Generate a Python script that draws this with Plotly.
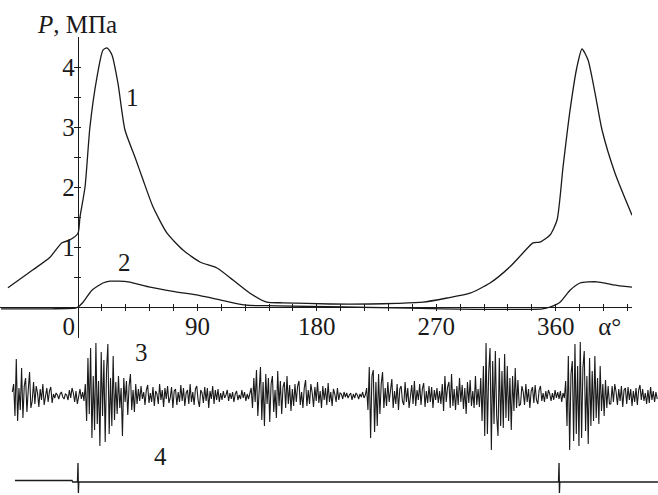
import numpy as np
import plotly.graph_objects as go

# ---------------- data ----------------
# curve 1: pressure, MPa vs crank angle, deg
c1_deg = [-52.8, -33.9, -21.1, -12.1, -6.0, 0.0, 1.5, 5.3, 9.0, 14.3, 18.8, 21.9, 25.6,
          30.1, 35.4, 42.9, 49.0, 56.5, 67.1, 79.1, 91.9, 104.7, 116.8, 129.6, 142.4,
          154.5, 189.9, 220.0, 240.0, 260.0, 278.1, 295.4, 310.5, 325.5, 335.3, 342.9,
          348.1, 355.7, 361.0, 365.5, 370.8, 376.0, 379.8, 384.3, 389.6, 394.9, 404.7, 417.5]
c1_mpa = [0.32, 0.62, 0.83, 1.07, 1.12, 1.23, 1.50, 2.00, 3.00, 3.83, 4.28, 4.32, 4.20,
          3.73, 2.95, 2.50, 2.12, 1.67, 1.23, 0.95, 0.75, 0.65, 0.45, 0.23, 0.08,
          0.07, 0.05, 0.05, 0.06, 0.08, 0.15, 0.23, 0.40, 0.67, 0.90, 1.07,
          1.08, 1.20, 1.45, 2.33, 3.28, 4.00, 4.30, 4.12, 3.57, 2.95, 2.23, 1.53]

# curve 2
c2_deg = [-58.0, -20.0, -2.0, 0.0, 3.8, 10.5, 18.8, 24.1, 37.7, 54.3, 71.6, 91.9, 107.0,
          127.0, 150.0, 250.0, 300.0, 350.0, 355.7, 363.2, 370.8, 378.3, 391.1, 403.2, 417.5]
c2_mpa = [-0.03, -0.03, -0.02, 0.00, 0.08, 0.28, 0.40, 0.43, 0.42, 0.33, 0.26, 0.19, 0.12,
          0.03, 0.02, -0.02, -0.04, -0.03, 0.00, 0.08, 0.28, 0.40, 0.42, 0.37, 0.33]

# curve 3: vibration signal (arbitrary units), one sample per degree from -49.5 deg
sig3_start, sig3_step = -49.5, 1.0
s3_a = [4, 12, -20, 37, -25, 8, -14, 28, -22, 10, 18, -16, 6, 24, -12, -5, 14]
s3_b = [-8, 10, 3, -11, 7, -4, 12, -9, -2, 8, -6, 5, 9, -7, 2]
s3_c = [-2, 3, 1, -3, 2, 4, -1, -3, 2, 1]
s3_d = [-4, 6, -2, 8, 3, -6, 5, -8, 2, 7, -3, 4, -5]
s3_e = [12, -25, 38, -18, 48, -42, 20, -34, 53, -28, 15, -50, 44, -20, 36, -46, 25, 52,
        -38, 18, -30, 40, -24, 14, -18]
s3_f = [20, -12, 8, -40, 18, -6, 15, -19, 10, 22, -14, 6, -16, 12, -8]
s3_g = [7, -5, 10, -3, 4, -9, 6, 11, -7, 3, -6, 9, -10, 5, 2, -8, 12, -4, 6, -11,
        8, -3, 10, -7, -2, 9, -12, 5, 7, -9, 4, -6, 11, -5, 8, -10, 3, 6, -8, 12,
        -6, 4, -9, 7, 10, -4, -11, 6, 3, -7, 9, -5, 8, -12, 5, -3, 10, -8, 6, -4, 7, -6]
s3_h = [3, -4, 5, -2, 1, 6, -5, 3, -3, 4, -6, 2, 5, -4, 1, -3, 6, -2, 4, -5, 2, -3, 4]
s3_i = [8, -12, 18, -6, 26, -20, 10, 29, -24, 14, -30, 22, -8, 18, -26, 12, 20, -16, 6,
        -22, 25, -10, 15, -18, 9, 14, -12, 20, -8, 11, -15, 7, -10, 12]
s3_j = [-6, 10, 15, -9, 4, -12, 8, 16, -10, 6, -8, 12, 3, -11, 9, -5, 14, -7, 5, -12,
        10, -4, 8, -9, 13, -6, 4, -10, 7, 2, -6, 8, -4, 3]
s3_k = [2, -3, 4, -1, 3, -2, 1, 3, -4, 2, -2, 3, 1, -3, 2, -1, 4, -2, 1]
s3_l = [8, -14, 29, -42, 20, 26, -36, 14, -30, 22, -18, 12, 24, -12, 8]
s3_m = [-10, 14, -6, 9, 17, -12, 5, -8, 12, -14, 7, 10, -5, -9, 14, -6, 8, -12, 4, 11,
        -8, 15, -10, 6, -4, 12, -9, 7, 13, -11, 5, -7, 10, -6, 9, -12, 6, -4, 8, -7, 5]
s3_n = [-8, 12, -15, 20, -6, 9, 14, -12, 22, -10, 7, -14, 10, -9, 18, -6, 11, -13, 8,
        -18, 14, -7, 16, -10, 5, -12, 20, -9, 7, -11]
s3_o = [18, -25, 30, -40, 53, -38, 24, 48, -54, 35, -28, 45, -20, -40, 38, -30, 25, -32,
        42, -22, 30, -25, 18, -34, 20, -15, 28, -12, 16, -10]
s3_p = [-8, 10, 4, -9, 12, -6, 7, -12, 5, 9, -7, 11, -4, -8, 6, 10, -5, 3, -6]
s3_q = [5, -3, 6, 2, -5, 3, -4, 6, -2, 4, -3, 5, -6, 3, -2]
s3_r = [15, -30, 40, -54, 22, 35, -45, 52, -38, 30, -50, 54, -42, 28, 45, -35, 20, -48,
        38, -30, 25, -25, 40, -22, 18, -28, 30, -15, 12, -20, 16, -12, 10, -8]
s3_s = [-8, 10, -6, 12, 4, -9, 7, -5, 10, -11, 6, 8, -8, 9, -4, 7, -10, 5, -6, 8,
        -9, 6, 11, -4, 7, -5, 3, -8, 6, -7, 9, -4, 5, -6, 4, -3]
sig3 = (s3_a + s3_b + s3_c + s3_d + s3_e + s3_f + s3_g + s3_h + s3_i + s3_j + s3_k +
        s3_l + s3_m + s3_n + s3_o + s3_p + s3_q + s3_r + s3_s)
sig3_deg = sig3_start + sig3_step * np.arange(len(sig3))

# curve 4: marker pulses (arbitrary units)
sig4_deg = [-47.5, -4.5, -4.0, -0.4, 0.0, 0.3, 0.6, 362.1, 362.5, 362.8, 363.1, 437.0]
sig4 = [1.5, 1.5, 0.0, 0.0, 19.0, -11.0, 0.0, 0.0, 19.0, -11.0, 0.0, 0.0]

x_ticks = list(range(0, 415, 18))
x_labels = {0: "0\u2007\u2005", 90: "90", 180: "180", 270: "270", 360: "360", 396: "\u2002\u03b1\u00b0"}
y_ticks = [0.5, 1, 1.5, 2, 2.5, 3, 3.5, 4]
y_labels = {1: "1", 2: "2", 3: "3", 4: "4"}

curve_labels = [("1", 41.4, 3.5), ("2", 35.4, 0.75)]

# ---------------- figure ----------------
W, H = 658, 495
PX_PER_DEG = 1.327
X0_PX = 78
AX_Y_PX = 307
PX_PER_MPA = 60
INK = "#1a1a1a"
FONT = "Liberation Serif, Times New Roman, serif"

def deg_at(px):
    return (px - X0_PX) / PX_PER_DEG

fig = go.Figure()
lw = 1.3
fig.add_trace(go.Scatter(x=c1_deg, y=c1_mpa, mode="lines", line=dict(color=INK, width=lw, shape="spline", smoothing=0.6),
                         xaxis="x", yaxis="y", hoverinfo="skip"))
fig.add_trace(go.Scatter(x=c2_deg, y=c2_mpa, mode="lines", line=dict(color=INK, width=lw, shape="spline", smoothing=0.6),
                         xaxis="x", yaxis="y", hoverinfo="skip"))
fig.add_trace(go.Scatter(x=sig3_deg, y=sig3, mode="lines", line=dict(color=INK, width=1.1),
                         xaxis="x2", yaxis="y2", hoverinfo="skip"))
fig.add_trace(go.Scatter(x=sig4_deg, y=sig4, mode="lines", line=dict(color=INK, width=1.3),
                         xaxis="x2", yaxis="y3", hoverinfo="skip"))

x_end_px = 632
y_top_px, y_bot_px = 37, 338
tickfont = dict(family=FONT, size=25, color=INK)
common_x = dict(domain=[0, x_end_px / W], range=[deg_at(0), deg_at(x_end_px)],
                anchor="free", position=(H - AX_Y_PX) / H, showgrid=False, zeroline=False)
common_y = dict(domain=[(H - y_bot_px) / H, (H - y_top_px) / H],
                range=[(AX_Y_PX - y_bot_px) / PX_PER_MPA, (AX_Y_PX - y_top_px) / PX_PER_MPA],
                anchor="free", position=X0_PX / W, showgrid=False, zeroline=False)

fig.update_layout(
    width=W, height=H, autosize=False,
    margin=dict(l=0, r=0, t=0, b=0, pad=0),
    paper_bgcolor="white", plot_bgcolor="rgba(0,0,0,0)",
    showlegend=False,
    font=dict(family=FONT, color=INK),
    xaxis=dict(**common_x, showline=True, linecolor=INK, linewidth=1.3,
               tickmode="array", tickvals=x_ticks,
               ticktext=[x_labels.get(v, "") for v in x_ticks],
               ticks="inside", ticklen=3, tickwidth=1.2, tickcolor=INK, tickfont=tickfont,
               ticklabelstandoff=-3),
    xaxis3=dict(**common_x, overlaying="x", showline=False,
                tickmode="array", tickvals=x_ticks, showticklabels=False,
                ticks="outside", ticklen=3, tickwidth=1.2, tickcolor=INK),
    yaxis=dict(**common_y, showline=True, linecolor=INK, linewidth=1.3,
               tickmode="array", tickvals=y_ticks,
               ticktext=[y_labels.get(v, "") for v in y_ticks],
               ticks="outside", ticklen=4, tickwidth=1.2, tickcolor=INK, tickfont=tickfont,
               ticklabelstandoff=-6),
    yaxis4=dict(**common_y, overlaying="y", showline=False,
                tickmode="array", tickvals=y_ticks, showticklabels=False,
                ticks="inside", ticklen=2, tickwidth=1.2, tickcolor=INK),
    xaxis2=dict(domain=[0, 1], range=[deg_at(0), deg_at(W)], anchor="y2", visible=False),
    yaxis2=dict(domain=[0, 1], range=[-(H - 396), 396], anchor="x2", visible=False),
    yaxis3=dict(domain=[0, 1], range=[-(H - 482), 482], anchor="x2", visible=False),
)

# invisible trace to activate overlay axes
fig.add_trace(go.Scatter(x=[0], y=[0], xaxis="x3", yaxis="y4", mode="markers",
                         marker=dict(opacity=0), hoverinfo="skip"))

for txt, xd, yv in curve_labels:
    fig.add_annotation(x=xd, y=yv, xref="x", yref="y", text=txt, showarrow=False,
                       font=dict(family=FONT, size=25, color=INK))
fig.add_annotation(x=48.2, y=44, xref="x2", yref="y2", text="3", showarrow=False,
                   font=dict(family=FONT, size=25, color=INK))
fig.add_annotation(x=deg_at(160), y=26, xref="x2", yref="y3", text="4", showarrow=False,
                   font=dict(family=FONT, size=25, color=INK))
fig.add_annotation(x=35 / W, y=(H - 25) / H, xref="paper", yref="paper", xanchor="left",
                   yanchor="middle", text="<i>P</i>, МПа", showarrow=False,
                   font=dict(family=FONT, size=25, color=INK))

fig.write_html("out.html", config={"displayModeBar": False},
               post_script="document.body.style.margin='0px';document.body.style.padding='0px';")
